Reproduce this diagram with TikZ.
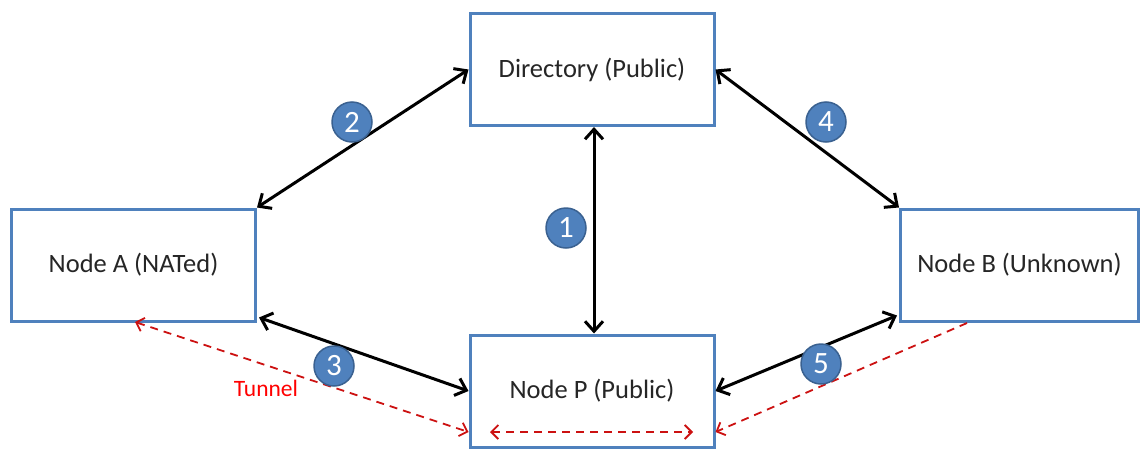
\documentclass[tikz,border=0pt]{standalone}
\usepackage{fontspec}
\setmainfont{Carlito}
\usetikzlibrary{arrows.meta}
\definecolor{boxblue}{HTML}{4F81BD}
\definecolor{circborder}{HTML}{3A6190}
\definecolor{tunred}{HTML}{CC1111}
\definecolor{labred}{HTML}{FF0000}
\tikzset{
  larr/.tip={Straight Barb[length=10pt,width=18pt,line width=3pt]},
  tarr/.tip={Straight Barb[length=7pt,width=14pt,line width=1.8pt]}}
\begin{document}
\begin{tikzpicture}[x=1pt,y=-1pt,
  box/.style={draw=boxblue,line width=3pt,fill=white,minimum width=244pt,minimum height=112pt,inner sep=0pt,font=\fontsize{26.5}{30}\selectfont,text=black!85},
  link/.style={line width=3pt,{larr}-{larr}},
  tunnel/.style={draw=tunred,line width=1.8pt,dash pattern=on 8pt off 6pt},
  badge/.style={circle,fill=boxblue,draw=circborder,line width=1.5pt,minimum size=40pt,inner sep=0pt,text=white,font=\fontsize{31}{34}\selectfont}]
\useasboundingbox (0,0) rectangle (1140,450);
\node[box] (dir) at (592,69.5) {Directory (Public)};
\node[box] (na) at (133.5,265) {Node A (NATed)};
\node[box,minimum width=238pt] (nb) at (1019.5,265) {Node B (Unknown)};
\node[box] (np) at (592,391) {Node P (Public)};
\coordinate (tA) at (135,322);
\coordinate (tB) at (967,323);
\coordinate (pL) at (490,432);
\coordinate (pR) at (693,432);
\coordinate (d1) at ([xshift=2pt]dir.south);
\coordinate (p1) at ([xshift=2pt]np.north);
\coordinate (a3) at ([xshift=2pt,yshift=5pt]na.south east);
\coordinate (c5) at ([xshift=-2pt,yshift=7pt]nb.south west);
\draw[link] (dir.west) -- (na.north east);
\draw[link] (dir.east) -- (nb.north west);
\draw[link] (d1) -- (p1);
\draw[link] (a3) -- (np.west);
\draw[link] (np.east) -- (c5);
\draw[tunnel,{tarr}-{tarr}] (tA) -- (np.south west |- pL);
\draw[tunnel,{tarr}-{tarr}] (pL) -- (pR);
\draw[tunnel,-{tarr}] (tB) -- (np.south east |- pR);
\node[text=labred,font=\fontsize{23.5}{26}\selectfont] (tl) at (266,388) {Tunnel};
\node[badge] (b2) at (352,122) {2};
\node[badge] (b4) at (826,122) {4};
\node[badge] (b1) at (566,228) {1};
\node[badge] (b3) at (334,366) {3};
\node[badge] (b5) at (821,364) {5};
\end{tikzpicture}
\end{document}
